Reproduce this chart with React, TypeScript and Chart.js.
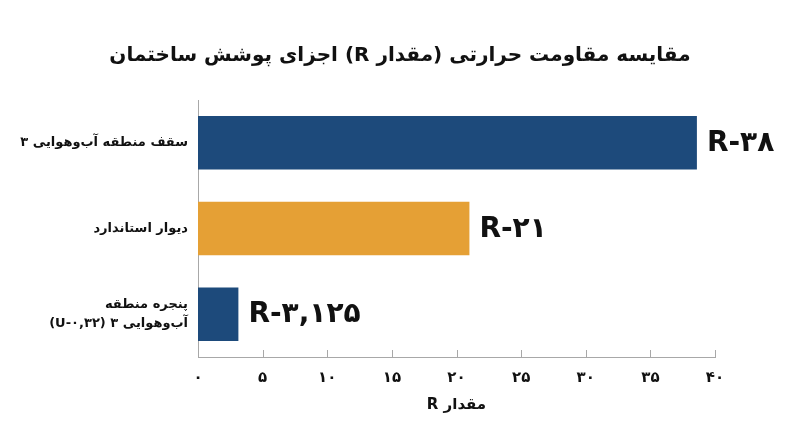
import React, { useEffect, useRef } from 'react';
import { Chart, registerables } from 'chart.js';

Chart.register(...registerables);

const chartTitle = 'مقایسه مقاومت حرارتی (مقدار R) اجزای پوشش ساختمان';
const categories: (string | string[])[] = [
  'سقف منطقه آب\u200cوهوایی ۳',
  'دیوار استاندارد',
  ['پنجره منطقه', 'آب\u200cوهوایی ۳ (U-۰,۳۲)'],
];
const rValues = [38.6, 21, 3.125];
const valueLabels = ['R-۳۸', 'R-۲۱', 'R-۳,۱۲۵'];
const barColors = ['#1d4a7b', '#e5a035', '#1d4a7b'];
const xTickLabels = ['۰', '۵', '۱۰', '۱۵', '۲۰', '۲۵', '۳۰', '۳۵', '۴۰'];
const xAxisTitle = 'مقدار R';

const FONT = "'DejaVu Sans', 'Noto Sans', sans-serif";
const AXIS_COLOR = '#a8a8a8';

const titlePlugin = {
  id: 'centeredTitle',
  afterDraw(chart: any) {
    const ctx = chart.ctx;
    ctx.save();
    ctx.fillStyle = '#111111';
    ctx.font = `bold 20px ${FONT}`;
    ctx.textAlign = 'center';
    ctx.textBaseline = 'middle';
    ctx.fillText(chartTitle, chart.width / 2, 56);
    ctx.restore();
  },
};

const inwardTicks = {
  id: 'inwardTicks',
  afterDraw(chart: any) {
    const x = chart.scales.x;
    const ctx = chart.ctx;
    ctx.save();
    ctx.strokeStyle = AXIS_COLOR;
    ctx.lineWidth = 1;
    x.ticks.forEach((_t: any, i: number) => {
      const px = Math.round(x.getPixelForTick(i)) + 0.5;
      ctx.beginPath();
      ctx.moveTo(px, x.top);
      ctx.lineTo(px, x.top - 7);
      ctx.stroke();
    });
    ctx.restore();
  },
};

const valueLabelPlugin = {
  id: 'valueLabels',
  afterDatasetsDraw(chart: any) {
    const meta = chart.getDatasetMeta(0);
    const ctx = chart.ctx;
    ctx.save();
    ctx.fillStyle = '#111111';
    ctx.font = `bold 28px ${FONT}`;
    ctx.textAlign = 'left';
    ctx.textBaseline = 'middle';
    meta.data.forEach((bar: any, i: number) => {
      ctx.fillText(valueLabels[i], bar.x + 10, bar.y + 1);
    });
    ctx.restore();
  },
};

export default function App() {
  const ref = useRef<HTMLCanvasElement | null>(null);

  useEffect(() => {
    document.body.style.margin = '0';
    if (!ref.current) return;
    const chart = new Chart(ref.current, {
      type: 'bar',
      data: {
        labels: categories,
        datasets: [
          {
            data: rValues,
            backgroundColor: barColors,
            borderWidth: 0,
            barPercentage: 0.625,
            categoryPercentage: 1,
          },
        ],
      },
      options: {
        indexAxis: 'y',
        responsive: false,
        animation: false,
        layout: { padding: { left: 0, right: 85, top: 100, bottom: 0 } },
        plugins: {
          legend: { display: false },
          tooltip: { enabled: false },
          title: { display: false },
        },
        scales: {
          x: {
            type: 'linear',
            min: 0,
            max: 40,
            ticks: {
              stepSize: 5,
              color: '#111111',
              padding: 12,
              font: { family: FONT, size: 15, weight: 'bold' },
              callback: (_v: any, i: number) => xTickLabels[i],
            },
            grid: { display: false, drawTicks: false },
            border: { display: true, color: AXIS_COLOR, width: 1 },
            title: {
              display: true,
              text: xAxisTitle,
              color: '#111111',
              font: { family: FONT, size: 15, weight: 'bold', lineHeight: 1.2 },
              padding: { top: 0, bottom: 33 },
            },
            afterFit: (scale: any) => {
              scale.height = 90;
            },
          },
          y: {
            ticks: {
              color: '#111111',
              padding: 10,
              font: { family: FONT, size: 13, weight: 'bold', lineHeight: 1.5 },
            },
            grid: { display: false, drawTicks: false },
            border: { display: true, color: AXIS_COLOR, width: 1 },
            afterFit: (scale: any) => {
              scale.width = 198;
            },
          },
        },
      },
      plugins: [titlePlugin, inwardTicks, valueLabelPlugin],
    } as any);
    return () => chart.destroy();
  }, []);

  return (
    <div style={{ width: 800, height: 447, background: '#ffffff' }}>
      <canvas ref={ref} width={800} height={447} style={{ direction: 'rtl', display: 'block' }} />
    </div>
  );
}
